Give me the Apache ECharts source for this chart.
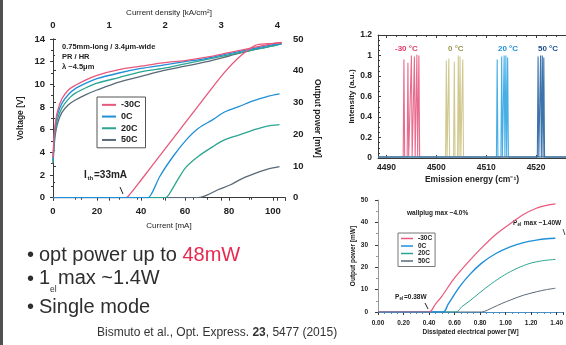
<!DOCTYPE html>
<html><head><meta charset="utf-8">
<script src="https://cdn.jsdelivr.net/npm/echarts@6/dist/echarts.min.js"></script>
<style>html,body{margin:0;padding:0;background:#fff}#c{width:566px;height:345px}</style>
</head><body><div id="c"></div>
<script>
// ---------- DATA ----------
const tempNames = ['-30C', '0C', '20C', '50C'];
// Main chart: voltage [V] vs current [mA]
const voltM30 = [[0,3.5],[0.5,5.5],[1,6.5],[2,7.6],[4,8.7],[7,9.5],[10,9.9],[15,10.4],[20,10.8],[30,11.3],[40,11.6],[50,11.9],[60,12.1],[70,12.4],[80,12.8],[90,13.2],[100,13.6],[104,13.7]];
const volt0 = [[0,3.3],[0.5,5.2],[1,6.2],[2,7.3],[4,8.3],[7,9.1],[10,9.6],[15,10.1],[20,10.5],[30,11.0],[40,11.4],[50,11.7],[60,12.0],[70,12.3],[80,12.7],[90,13.1],[100,13.5],[104,13.6]];
const volt20 = [[0,3.1],[0.5,4.9],[1,5.9],[2,6.9],[4,7.9],[7,8.7],[10,9.2],[15,9.7],[20,10.1],[30,10.6],[40,11.1],[50,11.4],[60,11.8],[70,12.2],[80,12.6],[90,13.0],[100,13.4],[104,13.6]];
const volt50 = [[0,3.0],[0.5,4.5],[1,5.5],[2,6.5],[4,7.5],[7,8.2],[10,8.6],[15,9.1],[20,9.5],[30,10.2],[40,10.7],[50,11.2],[60,11.6],[70,12.0],[80,12.5],[90,13.0],[100,13.4],[104,13.6]];
// Main chart: output power [mW] vs current [mA]
const powM30 = [[0,0],[33,0],[34,0.3],[40,5.5],[50,14.5],[60,23.5],[70,32.5],[78,39.5],[85,44.5],[92,48],[98,48.5],[104,48.8]];
const pow0 = [[0,0],[43,0],[45,1.5],[48.5,6.6],[54.5,12.9],[60.6,18.2],[66,21.8],[72.7,24.6],[78,27],[84.8,28.8],[91,30.5],[97,31.8],[103,32.7]];
const pow20 = [[0,0],[51,0],[54,2.5],[57,6],[60.6,9.7],[66,13],[72.7,16.1],[78,18.2],[84.8,19.8],[91,21.3],[97,22.5],[103,23]];
const pow50 = [[0,0],[66,0],[70,0.8],[75,2.5],[80.5,4],[86,6],[94,8.2],[98,9.1],[103,9.8]];
const currentTicksMax = 105.5;     // mA, right end of axis
const densityPerCurrent = 1 / 25.5; // kA/cm^2 per mA (0.75mm x 3.4um)

// Spectra: intensity (a.u.) vs emission energy (cm^-1)
const specM30 = [[4488.3,0.01],[4493.35,0.01],[4493.5,0.96],[4493.65,0.01],[4494.15,0.01],[4494.3,0.93],[4494.45,0.01],[4494.85,0.01],[4495.0,1.0],[4495.15,0.01],[4495.45,0.01],[4495.6,0.99],[4495.75,0.01],[4495.95,0.01],[4496.1,1.01],[4496.25,0.01],[4496.35,0.01],[4496.5,1.0],[4496.65,0.01],[4526,0.01]];
const spec0 = [[4488.3,0.01],[4501.85,0.01],[4502.0,0.95],[4502.15,0.01],[4502.35,0.01],[4502.5,0.97],[4502.65,0.01],[4503.45,0.01],[4503.6,0.94],[4503.75,0.01],[4504.25,0.01],[4504.4,1.0],[4504.55,0.01],[4504.6,0.01],[4504.75,0.99],[4504.9,0.01],[4505.15,0.01],[4505.3,0.96],[4505.45,0.01],[4526,0.01]];
const spec20 = [[4488.3,0.01],[4512.05,0.01],[4512.2,0.96],[4512.35,0.01],[4512.95,0.01],[4513.1,0.99],[4513.25,0.01],[4513.45,0.01],[4513.6,1.0],[4513.75,0.01],[4513.8,0.01],[4513.95,1.0],[4514.1,0.01],[4514.15,0.01],[4514.3,0.98],[4514.45,0.01],[4526,0.01]];
const spec50 = [[4488.3,0.01],[4520.25,0.01],[4520.4,0.99],[4520.55,0.01],[4520.75,0.01],[4520.9,1.0],[4521.05,0.01],[4521.1,0.01],[4521.25,1.0],[4521.4,0.01],[4521.45,0.01],[4521.55,0.98],[4521.7,0.01],[4526,0.01]];
const specLabels = ['-30 °C', '0 °C', '20 °C', '50 °C'];

// Output power [mW] vs dissipated electrical power [W]
const dissM30 = [[0,0],[0.40,0],[0.45,3.5],[0.5,7],[0.59,14.5],[0.71,22.5],[0.81,28.5],[0.92,34.5],[1.04,39.6],[1.14,43.5],[1.24,46.3],[1.32,47.6],[1.39,48.3]];
const diss0 = [[0,0],[0.51,0],[0.55,3.5],[0.64,11.3],[0.72,16.8],[0.81,21.7],[0.92,26],[1.04,29.2],[1.14,31],[1.24,32.1],[1.32,32.7],[1.39,32.9]];
const diss20 = [[0,0],[0.61,0],[0.66,2.5],[0.72,5],[0.79,8.3],[0.89,12.7],[0.99,16.5],[1.09,19.5],[1.19,21.7],[1.29,22.9],[1.39,23.5]];
const diss50 = [[0,0],[0.81,0],[0.9,2],[0.97,3.8],[1.04,5.4],[1.14,7.5],[1.24,9],[1.32,10],[1.39,10.6]];

// ---------- STYLE ----------
const FONT = 'Liberation Sans';
const colors = {'-30C':'#e8587c','0C':'#1f8fd8','20C':'#2ba592','50C':'#5b6977'};
const specColors = ['#e4527a','#c9c07e','#27a0e2','#1c5c9e'];
const axisCol = '#3a3a3a';

const chart = echarts.init(document.getElementById('c'), null, {renderer:'canvas'});

function axisBase(fs, margin){
  return {
    axisLine:{show:true, lineStyle:{color:axisCol, width:1}},
    axisTick:{show:true, length:3, lineStyle:{color:axisCol}},
    axisLabel:{color:'#222', fontFamily:FONT, fontWeight:'bold', fontSize:fs, margin:margin},
    splitLine:{show:false},
    nameTextStyle:{color:'#222', fontFamily:FONT, fontWeight:'bold'}
  };
}
function merge(a,b){ const o = JSON.parse(JSON.stringify(a)); for (const k in b){ if (typeof b[k]==='object' && !Array.isArray(b[k]) && o[k] && b[k]!==null && typeof b[k]!=='function') Object.assign(o[k], b[k]); else o[k]=b[k]; } return o; }

const xAxes = [
  merge(axisBase(9.5,9), {gridIndex:0, type:'value', position:'bottom', min:0, max:currentTicksMax, interval:20,
    name:'Current [mA]', nameLocation:'middle', nameGap:24, nameTextStyle:{fontSize:8, fontWeight:'normal'},
    axisLabel:{showMaxLabel:false}, minorTick:{show:true, splitNumber:2, length:2}}),
  merge(axisBase(9.5,9), {gridIndex:0, type:'value', position:'top', min:0, max:currentTicksMax*densityPerCurrent, interval:1,
    name:'Current density [kA/cm²]', nameLocation:'middle', nameGap:22, nameTextStyle:{fontSize:8, fontWeight:'normal'},
    axisLabel:{showMaxLabel:false}, axisTick:{inside:true}, minorTick:{show:true, splitNumber:2, length:2}}),
  merge(axisBase(8.5,5), {gridIndex:1, type:'value', position:'bottom', min:4488.3, max:4526, splitNumber:4,
    name:'Emission energy (cm⁻¹)', nameLocation:'middle', nameGap:17, nameTextStyle:{fontSize:8.5},
    axisLabel:{showMinLabel:false, showMaxLabel:false, formatter:v=>String(Math.round(v))}, axisTick:{inside:true}}),
  merge(axisBase(8.5,5), {gridIndex:1, type:'value', position:'top', min:4488.3, max:4526, splitNumber:4,
    axisLabel:{show:false}, axisTick:{inside:true}, minorTick:{show:true, splitNumber:5, length:2}}),
  merge(axisBase(6.5,8), {gridIndex:2, type:'value', position:'bottom', min:0, max:1.45, interval:0.2,
    name:'Dissipated electrical power [W]', nameLocation:'middle', nameGap:17, nameTextStyle:{fontSize:6.5},
    axisLine:{lineStyle:{color:'#4a90c4'}}, axisLabel:{showMaxLabel:false, formatter:v=>v.toFixed(2)},
    minorTick:{show:true, splitNumber:4, length:2}})
];
const yAxes = [
  merge(axisBase(9.5,8), {gridIndex:0, type:'value', position:'left', min:0, max:14, interval:2,
    name:'Voltage [V]', nameLocation:'middle', nameGap:28, nameTextStyle:{fontSize:8.5},
    minorTick:{show:true, splitNumber:2, length:2}}),
  merge(axisBase(9.5,8), {gridIndex:0, type:'value', position:'right', min:0, max:50, interval:10,
    name:'Output power [mW]', nameLocation:'middle', nameGap:28, nameRotate:-90, nameTextStyle:{fontSize:8.5},
    minorTick:{show:true, splitNumber:2, length:2}}),
  merge(axisBase(8.5,6), {gridIndex:1, type:'value', position:'left', min:0, max:1.2, interval:0.2,
    name:'Intensity (a.u.)', nameLocation:'middle', nameGap:18, nameTextStyle:{fontSize:8},
    axisTick:{inside:true}, minorTick:{show:true, splitNumber:4, length:2}}),
  merge(axisBase(6.5,10), {gridIndex:2, type:'value', position:'left', min:0, max:50, interval:10,
    name:'Output power [mW]', nameLocation:'middle', nameGap:20, nameTextStyle:{fontSize:6.5},
    axisLine:{lineStyle:{color:'#999'}}, minorTick:{show:true, splitNumber:2, length:2}})
];

function lineSeries(name, data, xi, yi, color, width){
  return {type:'line', name:name, data:data, xAxisIndex:xi, yAxisIndex:yi, showSymbol:false, smooth:0.3,
    lineStyle:{color:color, width:width||1.3}, itemStyle:{color:color}, z:3, animation:false};
}
const series = [
  lineSeries('50C', volt50, 0, 0, colors['50C']),
  lineSeries('20C', volt20, 0, 0, colors['20C']),
  lineSeries('0C', volt0, 0, 0, colors['0C']),
  lineSeries('-30C', voltM30, 0, 0, colors['-30C']),
  lineSeries('50C', pow50, 0, 1, colors['50C']),
  lineSeries('20C', pow20, 0, 1, colors['20C']),
  lineSeries('-30C', powM30, 0, 1, colors['-30C']),
  lineSeries('0C', pow0, 0, 1, colors['0C']),
  lineSeries('50C', diss50, 4, 3, colors['50C'], 1),
  lineSeries('20C', diss20, 4, 3, colors['20C'], 1),
  lineSeries('0C', diss0, 4, 3, colors['0C'], 1.4),
  lineSeries('-30C', dissM30, 4, 3, colors['-30C'], 1.2)
];
[specM30, spec0, spec20, spec50].forEach((d,i)=>{
  series.push({type:'line', name:specLabels[i], data:d, xAxisIndex:2, yAxisIndex:2, showSymbol:false, smooth:false,
    lineStyle:{color:specColors[i], width:1.1, opacity:0.85}, z:2, animation:false});
});

function txt(x,y,text,fs,color,opts){
  return Object.assign({type:'text', x:x, y:y, style:Object.assign({text:text, fontFamily:FONT, fontSize:fs, fill:color||'#222',
    textVerticalAlign:'middle', verticalAlign:'middle'}, (opts&&opts.style)||{})}, (opts&&opts.el)||{});
}
const graphics = [
  {type:'rect', shape:{x:0,y:0,width:3,height:345}, style:{fill:'#505050'}},
  txt(62,46.5,'0.75mm-long / 3.4μm-wide',7.5,'#222',{style:{fontWeight:'bold'}}),
  txt(62,56.5,'PR / HR',7.5,'#222',{style:{fontWeight:'bold'}}),
  txt(62,66.5,'λ ~4.5μm',7.5,'#222',{style:{fontWeight:'bold'}}),
  txt(84,175,'I',10,'#222',{style:{fontWeight:'bold'}}),
  txt(87.5,178,'th',6,'#222',{style:{fontWeight:'bold'}}),
  txt(94,175,'=33mA',10,'#222',{style:{fontWeight:'bold'}}),
  {type:'line', shape:{x1:120,y1:187,x2:123,y2:194}, style:{stroke:'#222', lineWidth:1}},
  txt(395,49,'-30 °C',8,'#e23a68',{style:{fontWeight:'bold'}}),
  txt(448,49,'0 °C',8,'#9a9650',{style:{fontWeight:'bold'}}),
  txt(498,49,'20 °C',8,'#1f8fd8',{style:{fontWeight:'bold'}}),
  txt(538,49,'50 °C',8,'#1c4f8a',{style:{fontWeight:'bold'}}),
  txt(407,213,'wallplug max ~4.0%',6.5,'#222',{style:{fontWeight:'bold'}}),
  txt(513,223,'P',6.5,'#222',{style:{fontWeight:'bold'}}),
  txt(517.5,225,'el',4.5,'#222',{style:{fontWeight:'bold'}}),
  txt(522,223,' max ~1.40W',6.5,'#222',{style:{fontWeight:'bold'}}),
  {type:'line', shape:{x1:563,y1:229,x2:565,y2:235}, style:{stroke:'#555', lineWidth:1}},
  txt(395,297,'P',6.5,'#222',{style:{fontWeight:'bold'}}),
  txt(399.5,299,'el',4.5,'#222',{style:{fontWeight:'bold'}}),
  txt(404,297,'=0.38W',6.5,'#222',{style:{fontWeight:'bold'}}),
  {type:'line', shape:{x1:425,y1:303,x2:428,y2:309}, style:{stroke:'#222', lineWidth:1}},
  // slide bullets
  txt(27,255,'•',20,'#2e2e2e'),
  {type:'text', x:39, y:255, style:{text:'{n|opt power up to }{r|48mW}', fontFamily:FONT, fontSize:20, verticalAlign:'middle', textVerticalAlign:'middle',
    rich:{n:{fontFamily:FONT, fontSize:20, fill:'#2e2e2e', color:'#2e2e2e'}, r:{fontFamily:FONT, fontSize:20, fill:'#e8294f', color:'#e8294f'}}}},
  txt(27,279,'•',20,'#2e2e2e'),
  txt(39,278.5,'1',20,'#2e2e2e'),
  txt(50,290,'el',8.5,'#2e2e2e'),
  txt(58,278.5,'max ~1.4W',20,'#2e2e2e'),
  txt(27,307,'•',20,'#2e2e2e'),
  txt(39,307,'Single mode',20,'#2e2e2e'),
  {type:'text', x:97, y:332.5, style:{text:'{n|Bismuto et al., Opt. Express. }{b|23}{n|, 5477 (2015)}', fontFamily:FONT, fontSize:12, verticalAlign:'middle', textVerticalAlign:'middle',
    rich:{n:{fontFamily:FONT, fontSize:12, fill:'#333', color:'#333'}, b:{fontFamily:FONT, fontSize:12, fontWeight:'bold', fill:'#333', color:'#333'}}}}
];

chart.setOption({
  backgroundColor:'#ffffff',
  animation:false,
  textStyle:{fontFamily:FONT},
  grid:[
    {left:53, top:39, width:232, height:158.7},
    {left:378, top:35, width:196, height:123},
    {left:378, top:200, width:194, height:112}
  ],
  xAxis:xAxes,
  yAxis:yAxes,
  legend:[
    {data:tempNames, orient:'vertical', left:97, top:97, itemWidth:14, itemHeight:2, icon:'rect', itemGap:2,
     padding:[3,5,3,5], borderColor:'#555', borderWidth:1, backgroundColor:'#fff',
     textStyle:{fontFamily:FONT, fontSize:9, fontWeight:'bold', color:'#222', lineHeight:9.7}},
    {data:tempNames, orient:'vertical', left:398, top:233, itemWidth:12, itemHeight:1.5, icon:'rect', itemGap:0.5,
     padding:[2,3,2,3], borderColor:'#777', borderWidth:1, backgroundColor:'#fff',
     textStyle:{fontFamily:FONT, fontSize:6.5, fontWeight:'bold', color:'#222', lineHeight:7}}
  ],
  series:series,
  graphic:graphics
});
</script></body></html>
